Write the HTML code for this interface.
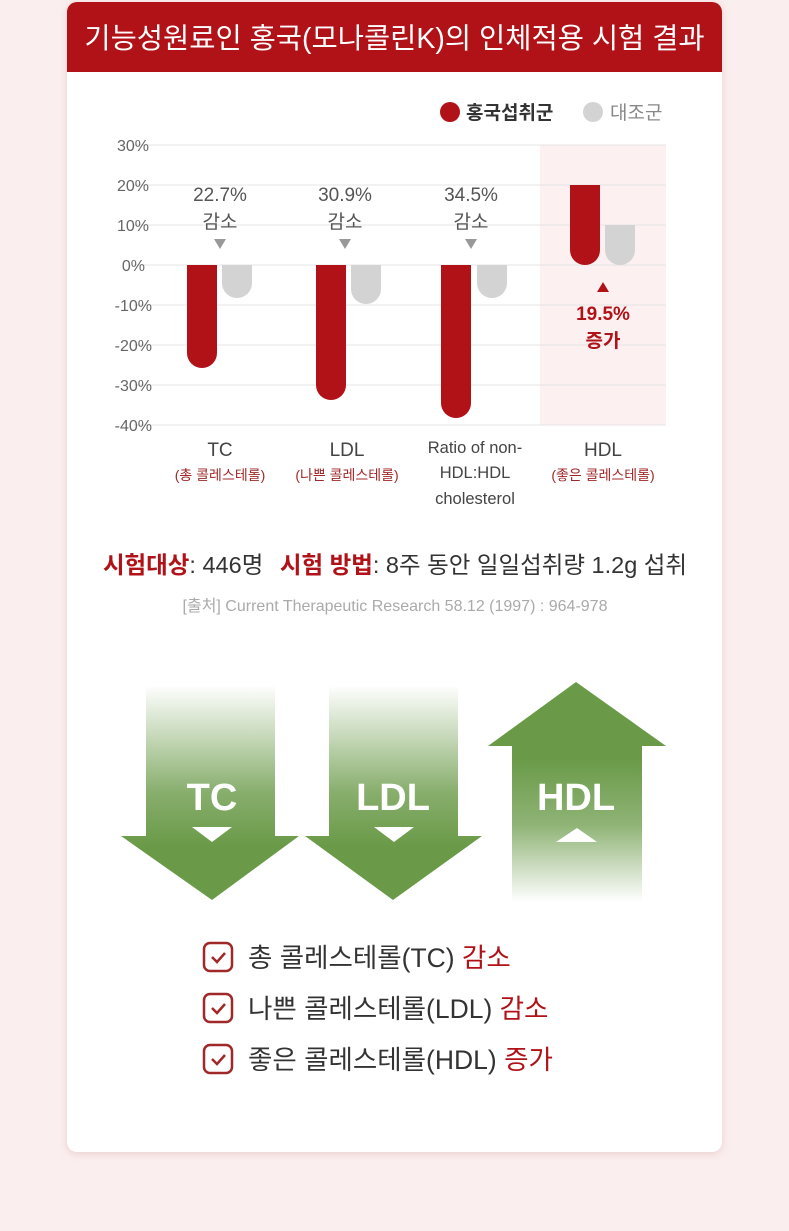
<!DOCTYPE html>
<html><head><meta charset="utf-8"><style>
html,body{margin:0;padding:0;background:#fbeeee;}
svg{display:block;font-family:"Liberation Sans","Noto Sans CJK KR",sans-serif;}
</style></head><body>
<svg width="789" height="1231" viewBox="0 0 789 1231" xmlns="http://www.w3.org/2000/svg">
<defs>
<filter id="sh" x="-5%" y="-5%" width="110%" height="110%"><feDropShadow dx="0" dy="2" stdDeviation="4" flood-color="#d8b0b0" flood-opacity="0.5"/></filter>
<linearGradient id="gd" x1="0" y1="0" x2="0" y2="1">
<stop offset="0" stop-color="#6a9a48" stop-opacity="0"/>
<stop offset="0.5" stop-color="#6a9a48" stop-opacity="0.8"/>
<stop offset="0.75" stop-color="#6a9a48" stop-opacity="1"/>
<stop offset="1" stop-color="#6a9a48"/>
</linearGradient>
<linearGradient id="gu" x1="0" y1="0" x2="0" y2="1">
<stop offset="0" stop-color="#6a9a48"/>
<stop offset="0.35" stop-color="#6a9a48"/>
<stop offset="0.65" stop-color="#6a9a48" stop-opacity="0.75"/>
<stop offset="1" stop-color="#6a9a48" stop-opacity="0"/>
</linearGradient>
</defs>
<rect x="67" y="2" width="655" height="1150" rx="10" fill="#fff" filter="url(#sh)"/>
<path d="M67 12 a10 10 0 0 1 10 -10 h635 a10 10 0 0 1 10 10 v60 h-655z" fill="#b01218"/>
<text x="394.5" y="48" text-anchor="middle" font-size="28.5" fill="#fff">기능성원료인 홍국(모나콜린K)의 인체적용 시험 결과</text>

<circle cx="450" cy="112" r="10" fill="#b01218"/>
<text x="466" y="119" font-size="19" font-weight="bold" fill="#333">홍국섭취군</text>
<circle cx="593" cy="112" r="10" fill="#d3d3d3"/>
<text x="610" y="119" font-size="19" fill="#888">대조군</text>

<rect x="540" y="145" width="126" height="280" fill="#fdf0f0"/>
<g stroke="#e4e4e4" stroke-width="1">
<line x1="134" y1="145" x2="666" y2="145"/><line x1="134" y1="185" x2="666" y2="185"/>
<line x1="134" y1="225" x2="666" y2="225"/><line x1="134" y1="265" x2="666" y2="265"/>
<line x1="134" y1="305" x2="666" y2="305"/><line x1="134" y1="345" x2="666" y2="345"/>
<line x1="134" y1="385" x2="666" y2="385"/><line x1="134" y1="425" x2="666" y2="425"/>
</g>
<g font-size="16" fill="#666" text-anchor="end">
<text x="149" y="151">30%</text><text x="149" y="191">20%</text><text x="149" y="231">10%</text>
<text x="145" y="271">0%</text><text x="152" y="311">-10%</text><text x="152" y="351">-20%</text>
<text x="152" y="391">-30%</text><text x="152" y="431">-40%</text>
</g>

<g fill="#b01218">
<path d="M187 265 h30 v88 a15 15 0 0 1 -30 0z"/>
<path d="M316 265 h30 v120 a15 15 0 0 1 -30 0z"/>
<path d="M441 265 h30 v138 a15 15 0 0 1 -30 0z"/>
<path d="M570 185 h30 v65 a15 15 0 0 1 -30 0z"/>
</g>
<g fill="#d3d3d3">
<path d="M222 265 h30 v18 a15 15 0 0 1 -30 0z"/>
<path d="M351 265 h30 v24 a15 15 0 0 1 -30 0z"/>
<path d="M477 265 h30 v18 a15 15 0 0 1 -30 0z"/>
<path d="M605 225 h30 v25 a15 15 0 0 1 -30 0z"/>
</g>

<g font-size="19" fill="#555" text-anchor="middle">
<text x="220" y="201">22.7%</text><text x="220" y="228">감소</text>
<text x="345" y="201">30.9%</text><text x="345" y="228">감소</text>
<text x="471" y="201">34.5%</text><text x="471" y="228">감소</text>
</g>
<g fill="#999">
<path d="M214 239 h12 l-6 10z"/><path d="M339 239 h12 l-6 10z"/><path d="M465 239 h12 l-6 10z"/>
</g>
<path d="M597 292 h12 l-6 -10z" fill="#b01218"/>
<g font-size="19" fill="#b01218" text-anchor="middle" font-weight="bold">
<text x="603" y="320">19.5%</text><text x="603" y="347">증가</text>
</g>

<g font-size="19" fill="#444" text-anchor="middle">
<text x="220" y="456">TC</text><text x="347" y="456">LDL</text><text x="603" y="456">HDL</text>
</g>
<g font-size="16.5" fill="#444" text-anchor="middle">
<text x="475" y="453">Ratio of non-</text><text x="475" y="478">HDL:HDL</text><text x="475" y="504">cholesterol</text>
</g>
<g font-size="14" fill="#a02828" text-anchor="middle">
<text x="220" y="480">(총 콜레스테롤)</text><text x="347" y="480">(나쁜 콜레스테롤)</text><text x="603" y="480">(좋은 콜레스테롤)</text>
</g>

<text x="395" y="573" text-anchor="middle" font-size="23.5" fill="#333"><tspan fill="#b01218" font-weight="bold">시험대상</tspan>: 446명 <tspan dx="10" fill="#b01218" font-weight="bold">시험 방법</tspan>: 8주 동안 일일섭취량 1.2g 섭취</text>
<text x="395" y="611" text-anchor="middle" font-size="16" fill="#aaa">[출처] Current Therapeutic Research 58.12 (1997) : 964-978</text>

<path d="M146 685 h129 v151 h24 l-87 64 l-91 -64 h25z" fill="url(#gd)"/>
<path d="M329 685 h129 v151 h24 l-89 64 l-88 -64 h24z" fill="url(#gd)"/>
<path d="M576 682 l90 64 h-24 v156 h-130 v-156 h-24z" fill="url(#gu)"/>
<g font-size="38" font-weight="bold" fill="#fff" text-anchor="middle">
<text x="212" y="810">TC</text><text x="393" y="810">LDL</text><text x="576" y="810">HDL</text>
</g>
<g fill="#fff">
<path d="M192 827 h40 l-20 15z"/><path d="M374 827 h40 l-20 15z"/><path d="M556 842 h41 l-20 -14z"/>
</g>

<g fill="none" stroke="#a02828" stroke-width="2.5">
<rect x="204" y="943" width="28" height="28" rx="6"/>
<rect x="204" y="994" width="28" height="28" rx="6"/>
<rect x="204" y="1045" width="28" height="28" rx="6"/>
<path d="M212 957 l5 5 l8 -9"/><path d="M212 1008 l5 5 l8 -9"/><path d="M212 1059 l5 5 l8 -9"/>
</g>
<g font-size="26.5" fill="#333">
<text x="248" y="967">총 콜레스테롤(TC) <tspan fill="#b01218">감소</tspan></text>
<text x="248" y="1018">나쁜 콜레스테롤(LDL) <tspan fill="#b01218">감소</tspan></text>
<text x="248" y="1069">좋은 콜레스테롤(HDL) <tspan fill="#b01218">증가</tspan></text>
</g>
</svg>
</body></html>
